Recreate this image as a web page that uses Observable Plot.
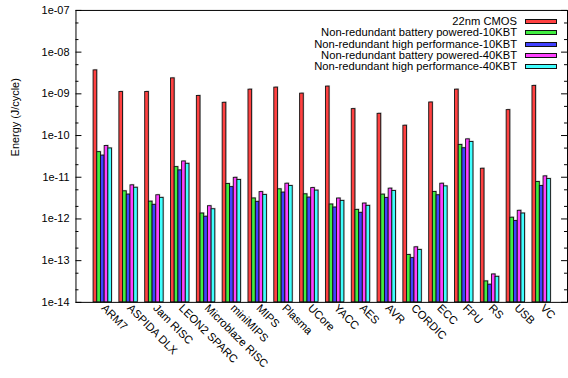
<!DOCTYPE html>
<html>
<head>
<meta charset="utf-8">
<script src="https://cdn.jsdelivr.net/npm/d3@7"></script>
<script src="https://cdn.jsdelivr.net/npm/@observablehq/plot@0.6"></script>
<style>
  html, body { margin: 0; padding: 0; background: #fff; overflow: hidden; }
  #chart { position: relative; width: 568px; height: 378px; overflow: hidden;
           font-family: "Liberation Sans", Arial, Helvetica, sans-serif; }
  #chart svg { display: block; }
  .key-text { position: absolute; right: 51px; font-size: 11.2px; line-height: 12px;
              color: #000; white-space: nowrap; }
  .key-swatch { position: absolute; left: 525px; width: 32px; height: 5px;
                box-sizing: border-box; border: 1px solid #111; }
</style>
</head>
<body>
<div id="chart"></div>
<script>
// Benchmarks along the x axis
const categories = ["ARM7", "ASPIDA DLX", "Jam RISC", "LEON2 SPARC", "Microblaze RISC",
  "miniMIPS", "MIPS", "Plasma", "UCore", "YACC", "AES", "AVR", "CORDIC", "ECC",
  "FPU", "RS", "USB", "VC"];

// Energy per cycle (J/cycle) for each implementation
const cmos22 = [3.65e-9, 1.11e-9, 1.11e-9, 2.35e-9, 8.9e-10, 6.1e-10, 1.26e-9, 1.41e-9,
  1.01e-9, 1.49e-9, 4.3e-10, 3.32e-10, 1.72e-10, 6.2e-10, 1.26e-9, 1.6e-11, 4.07e-10, 1.55e-9];
const battery10 = [4.0e-11, 4.6e-12, 2.6e-12, 1.75e-11, 1.35e-12, 6.9e-12, 3.1e-12, 5.14e-12,
  3.9e-12, 2.22e-12, 1.65e-12, 3.83e-12, 1.37e-13, 4.43e-12, 5.96e-11, 3.18e-14, 1.07e-12, 7.7e-12];
const perf10 = [3.3e-11, 3.84e-12, 2.18e-12, 1.46e-11, 1.13e-12, 5.8e-12, 2.57e-12, 4.28e-12,
  3.25e-12, 1.88e-12, 1.4e-12, 3.19e-12, 1.15e-13, 3.7e-12, 4.96e-11, 2.65e-14, 8.9e-13, 6.17e-12];
const battery40 = [5.6e-11, 6.4e-12, 3.7e-12, 2.39e-11, 2.02e-12, 9.7e-12, 4.4e-12, 7.0e-12,
  5.5e-12, 3.09e-12, 2.34e-12, 5.33e-12, 2.09e-13, 7.0e-12, 8.1e-11, 4.67e-14, 1.57e-12, 1.05e-11];
const perf40 = [4.9e-11, 5.6e-12, 3.2e-12, 2.1e-11, 1.71e-12, 8.6e-12, 3.77e-12, 6.17e-12,
  4.78e-12, 2.71e-12, 2.06e-12, 4.69e-12, 1.81e-13, 6.05e-12, 7.0e-11, 4.1e-14, 1.35e-12, 9.06e-12];

const seriesNames = ["22nm CMOS",
  "Non-redundant battery powered-10KBT",
  "Non-redundant high performance-10KBT",
  "Non-redundant battery powered-40KBT",
  "Non-redundant high performance-40KBT"];

// Major tick values of the log axis
const yTicks = [1e-14, 1e-13, 1e-12, 1e-11, 1e-10, 1e-9, 1e-8, 1e-7];

const palette = ["#ff4141", "#41ee41", "#4141ff", "#ff41ff", "#41ffff"];
const seriesValues = [cmos22, battery10, perf10, battery40, perf40];

const W = 572, H = 378;
const mL = 76, mR = 1, mT = 10, mB = 74;
const innerW = W - mL - mR;
// one band per benchmark plus half a band of padding at each end
const step = innerW / (categories.length + 1);
// clustered histogram: 5 bars and a gap of 2 bar widths per band
const slot = step / 7;
const floorValue = yTicks[0];
const minorTicks = yTicks.slice(0, -1).flatMap(t => [2 * t, 5 * t]);

const expLabel = v => {
  const e = Math.round(Math.log10(v));
  return "1e" + (e < 0 ? "-" : "+") + String(Math.abs(e)).padStart(2, "0");
};

const marks = [];
seriesValues.forEach((vals, s) => {
  const opts = {
    x: d => d,
    y1: floorValue,
    y2: (d, i) => vals[i],
    insetLeft: (1 + s) * slot,
    insetRight: (5 - s) * slot
  };
  // soft grey shadow behind each bar
  marks.push(Plot.barY(categories, {...opts, fill: "#9a9a9a", fillOpacity: 0.55, dx: 1, dy: -1}));
  marks.push(Plot.barY(categories, {...opts, fill: palette[s], stroke: "#111", strokeWidth: 0.9}));
});

marks.push(
  // inward ticks on both vertical edges
  Plot.tickY(yTicks, {y: d => d, insetRight: innerW - 6, stroke: "#000"}),
  Plot.tickY(yTicks, {y: d => d, insetLeft: innerW - 6, stroke: "#000"}),
  Plot.tickY(minorTicks, {y: d => d, insetRight: innerW - 3, stroke: "#000"}),
  Plot.tickY(minorTicks, {y: d => d, insetLeft: innerW - 3, stroke: "#000"}),
  Plot.frame({stroke: "#000", strokeWidth: 1}),
  Plot.text(yTicks, {y: d => d, text: expLabel, frameAnchor: "left", textAnchor: "end",
    dx: -6.5, fill: "#000", fontSize: 11}),
  Plot.text(categories, {x: d => d, frameAnchor: "bottom", rotate: 45, textAnchor: "start",
    dx: -2, dy: 6.5, fill: "#000", fontSize: 11.3}),
  Plot.text(["Energy (J/cycle)"], {frameAnchor: "left", rotate: -90, dx: -61,
    fill: "#000", fontSize: 11})
);

const chart = Plot.plot({
  width: W,
  height: H,
  marginLeft: mL,
  marginRight: mR,
  marginTop: mT,
  marginBottom: mB,
  style: {fontFamily: "'Liberation Sans', Arial, Helvetica, sans-serif", fontSize: "11px",
          background: "#fff", overflow: "visible"},
  x: {domain: categories, paddingInner: 0, paddingOuter: 0.5, axis: null},
  y: {type: "log", domain: [yTicks[0], yTicks[yTicks.length - 1]], axis: null},
  marks
});

const root = document.getElementById("chart");
root.appendChild(chart);

// key in the upper right corner of the plot area
seriesNames.forEach((name, s) => {
  const cy = 21.7 + 11.25 * s;
  const t = document.createElement("div");
  t.className = "key-text";
  t.style.top = (cy - 6.5) + "px";
  t.textContent = name;
  root.appendChild(t);
  const sw = document.createElement("div");
  sw.className = "key-swatch";
  sw.style.top = (cy - 2.5) + "px";
  sw.style.background = palette[s];
  root.appendChild(sw);
});
</script>
</body>
</html>
